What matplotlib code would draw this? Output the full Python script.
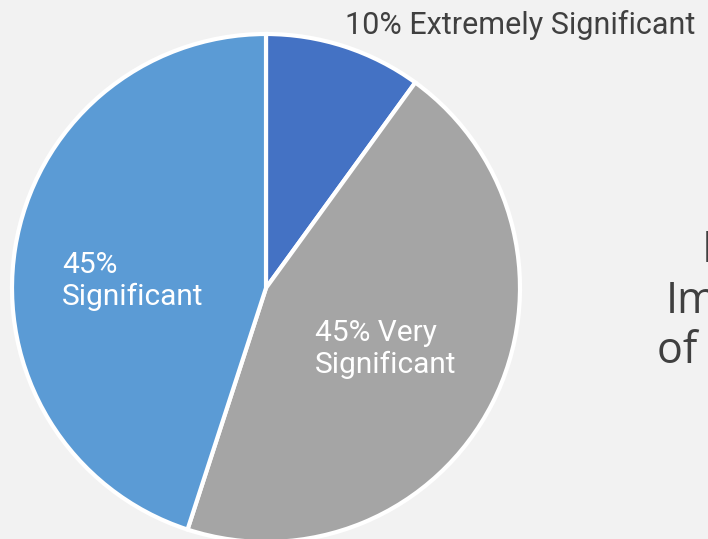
import matplotlib.pyplot as plt

# Data
labels = ['10% Extremely Significant', '45% Very\nSignificant', '45%\nSignificant']
values = [10, 45, 45]
colors = ['#4472C4', '#A5A5A5', '#5B9BD5']
title_lines = ['Relative', 'Importance', 'of Attributes']

fig = plt.figure(figsize=(7.08, 5.39), dpi=100)
fig.patch.set_facecolor('#F2F2F2')
ax = fig.add_axes([0, 0, 1, 1])
ax.set_facecolor('#F2F2F2')

# pie in pixel-like data coords (y up)
wedges, _ = ax.pie(values, colors=colors, startangle=90, counterclock=False,
                   center=(266, 251), radius=254,
                   wedgeprops=dict(edgecolor='white', linewidth=3))

ax.set_xlim(0, 708)
ax.set_ylim(0, 539)
ax.set_aspect('equal')
ax.axis('off')

# Slice labels
ax.text(345, 514, labels[0], ha='left', va='center', fontsize=22,
        family='Roboto', color='#404040')
ax.text(315, 190, labels[1], ha='left', va='center', fontsize=21.5,
        family='Roboto', color='white', linespacing=1.15)
ax.text(62, 258, labels[2], ha='left', va='center', fontsize=21.5,
        family='Roboto', color='white', linespacing=1.15)

# Title on the right (cut off by the figure edge, as in the reference)
tkw = dict(va='baseline', fontsize=31, family='Open Sans', color='#404040',
           clip_on=False)
ax.text(702, 277, title_lines[0], ha='left', **tkw)
ax.text(782, 226, title_lines[1], ha='center', **tkw)
ax.text(782, 176, title_lines[2], ha='center', **tkw)

fig.savefig('out.png', dpi=100, facecolor=fig.get_facecolor())
